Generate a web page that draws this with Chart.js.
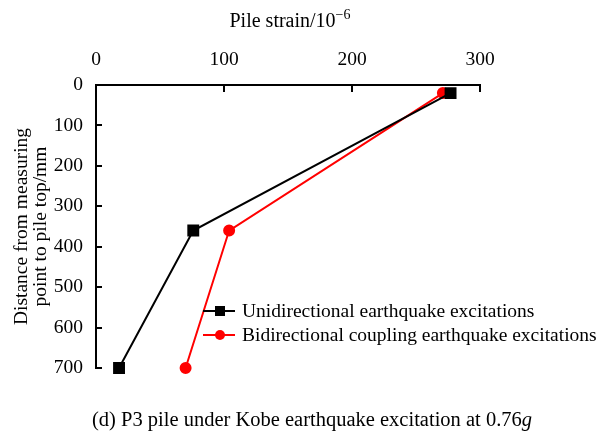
<!DOCTYPE html>
<html>
<head>
<meta charset="utf-8">
<script src="https://cdn.jsdelivr.net/npm/chart.js@4/dist/chart.umd.min.js"></script>
<style>
  body { margin: 0; background: #fff; }
  #wrap { position: relative; width: 603px; height: 436px; }
  #caption {
    position: absolute; left: 0; top: 409px; width: 624px; text-align: center;
    font-family: "Liberation Serif", "Times New Roman", serif; font-size: 20.5px;
    line-height: 20px; color: #000;
  }
</style>
</head>
<body>
<div id="wrap">
  <canvas id="myChart" width="603" height="436"></canvas>
  <div id="caption">(d) P3 pile under Kobe earthquake excitation at 0.76<i>g</i></div>
</div>
<script>
// depth of each measuring point below the pile top (mm)
const depths = [20, 360, 700];
// pile strain (x10^-6) at each depth
const uniStrain = [277, 76, 18];
const biStrain = [271, 104, 70];

const xTicks = [0, 100, 200, 300];
const yTicks = [0, 100, 200, 300, 400, 500, 600, 700];

const seriesNames = [
    "Unidirectional earthquake excitations",
    "Bidirectional coupling earthquake excitations"
];

const serif = "'Liberation Serif', 'Times New Roman', serif";

function toPoints(xs) {
    return xs.map((x, i) => ({ x: x, y: depths[i] }));
}

// tick marks on both axes point into the plot
const innerTicks = {
    id: "innerTicks",
    afterDraw(chart) {
        const ctx = chart.ctx;
        const area = chart.chartArea;
        ctx.save();
        ctx.strokeStyle = "#000";
        ctx.lineWidth = 2;
        xTicks.forEach(v => {
            const px = Math.round(chart.scales.x.getPixelForValue(v));
            ctx.beginPath();
            ctx.moveTo(px, area.top);
            ctx.lineTo(px, area.top + 7);
            ctx.stroke();
        });
        yTicks.forEach(v => {
            const py = Math.round(chart.scales.y.getPixelForValue(v));
            ctx.beginPath();
            ctx.moveTo(area.left, py);
            ctx.lineTo(area.left + 6, py);
            ctx.stroke();
        });
        ctx.restore();
    }
};

// axis title above the top axis, with a raised exponent
const strainTitle = {
    id: "strainTitle",
    afterDraw(chart) {
        const ctx = chart.ctx;
        const area = chart.chartArea;
        const main = "Pile strain/10";
        const sup = "\u22126";
        ctx.save();
        ctx.fillStyle = "#000";
        ctx.textBaseline = "alphabetic";
        ctx.font = "20px " + serif;
        const w1 = ctx.measureText(main).width;
        ctx.font = "14px " + serif;
        const w2 = ctx.measureText(sup).width;
        const x = (area.left + area.right) / 2 + 2 - (w1 + w2) / 2;
        ctx.font = "20px " + serif;
        ctx.fillText(main, x, 27);
        ctx.font = "14px " + serif;
        ctx.fillText(sup, x + w1, 19);
        ctx.restore();
    }
};

// legend drawn inside the plot, lower right
const innerLegend = {
    id: "innerLegend",
    afterDraw(chart) {
        const ctx = chart.ctx;
        const area = chart.chartArea;
        const x0 = area.left + 107;
        const y0 = area.top + 226;
        ctx.save();
        ctx.font = "19.5px " + serif;
        ctx.textBaseline = "middle";
        chart.data.datasets.forEach((ds, i) => {
            const y = y0 + i * 24;
            ctx.strokeStyle = ds.borderColor;
            ctx.lineWidth = 2;
            ctx.beginPath();
            ctx.moveTo(x0, y);
            ctx.lineTo(x0 + 32, y);
            ctx.stroke();
            ctx.fillStyle = ds.backgroundColor;
            if (ds.pointStyle === "rect") {
                ctx.fillRect(x0 + 12, y - 5, 10, 10);
            } else {
                ctx.beginPath();
                ctx.arc(x0 + 17, y, 5, 0, Math.PI * 2);
                ctx.fill();
            }
            ctx.fillStyle = "#000";
            ctx.fillText(seriesNames[i], x0 + 39, y + 1);
        });
        ctx.restore();
    }
};

const config = {
    type: "scatter",
    data: {
        datasets: [
            {
                label: seriesNames[0],
                data: toPoints(uniStrain),
                showLine: true,
                clip: false,
                borderColor: "#000",
                backgroundColor: "#000",
                borderWidth: 2,
                pointStyle: "rect",
                pointRadius: 7,
                pointHoverRadius: 7
            },
            {
                label: seriesNames[1],
                data: toPoints(biStrain),
                showLine: true,
                clip: false,
                borderColor: "#ff0000",
                backgroundColor: "#ff0000",
                borderWidth: 2,
                pointStyle: "circle",
                pointRadius: 5,
                pointHoverRadius: 5
            }
        ]
    },
    options: {
        responsive: false,
        animation: false,
        layout: { padding: { left: 0, right: 123, top: 0, bottom: 68 } },
        plugins: {
            legend: { display: false },
            tooltip: { enabled: false }
        },
        scales: {
            x: {
                type: "linear",
                position: "top",
                min: 0,
                max: 300,
                afterBuildTicks: axis => { axis.ticks = xTicks.map(v => ({ value: v })); },
                afterFit: axis => { axis.height = 85; },
                grid: { display: true, drawOnChartArea: false, drawTicks: false },
                border: { display: true, color: "#000", width: 2 },
                ticks: { color: "#000", padding: 13, font: { family: serif, size: 19.5 } }
            },
            y: {
                type: "linear",
                reverse: true,
                min: 0,
                max: 700,
                afterBuildTicks: axis => { axis.ticks = yTicks.map(v => ({ value: v })); },
                afterFit: axis => { axis.width = 96; },
                grid: { display: true, drawOnChartArea: false, drawTicks: false },
                border: { display: true, color: "#000", width: 2 },
                ticks: { color: "#000", padding: 13, font: { family: serif, size: 19.5 } },
                title: {
                    display: true,
                    text: ["Distance from measuring", "point to pile top/mm"],
                    color: "#000",
                    padding: { top: 12, bottom: 0 },
                    font: { family: serif, size: 19.5, lineHeight: 1.0 }
                }
            }
        }
    },
    plugins: [innerTicks, strainTitle, innerLegend]
};

new Chart(document.getElementById("myChart"), config);
</script>
</body>
</html>
